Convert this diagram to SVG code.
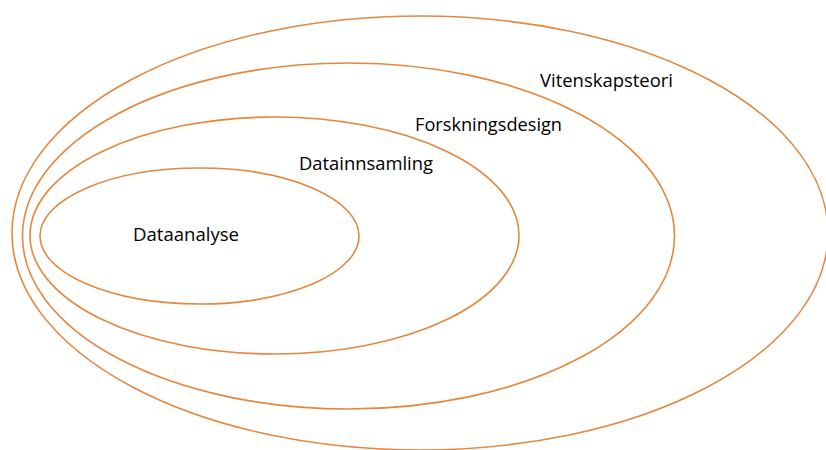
<svg xmlns="http://www.w3.org/2000/svg" width="826" height="450" viewBox="0 0 826 450">
<style>
.ring{fill:none;stroke:#E5873F;stroke-width:1.6}
.lbl{font-family:"Open Sans","Liberation Sans",sans-serif;font-size:18px;fill:#000}
</style>
<rect width="826" height="450" fill="#fff"/>
<g id="vitenskapsteori">
<ellipse class="ring" cx="420" cy="233" rx="408" ry="217"/>
<text class="lbl" x="540" y="87" textLength="133" lengthAdjust="spacingAndGlyphs">Vitenskapsteori</text>
</g>
<g id="forskningsdesign">
<ellipse class="ring" cx="348.5" cy="236" rx="326" ry="173"/>
<text class="lbl" x="415" y="131" textLength="147" lengthAdjust="spacingAndGlyphs">Forskningsdesign</text>
</g>
<g id="datainnsamling">
<ellipse class="ring" cx="274.5" cy="235.5" rx="244.5" ry="118.5"/>
<text class="lbl" x="299" y="170" textLength="134" lengthAdjust="spacingAndGlyphs">Datainnsamling</text>
</g>
<g id="dataanalyse">
<ellipse class="ring" cx="199.5" cy="236" rx="159.5" ry="68"/>
<text class="lbl" x="133" y="241" textLength="106" lengthAdjust="spacingAndGlyphs">Dataanalyse</text>
</g>
<g id="connectors"></g>
</svg>
